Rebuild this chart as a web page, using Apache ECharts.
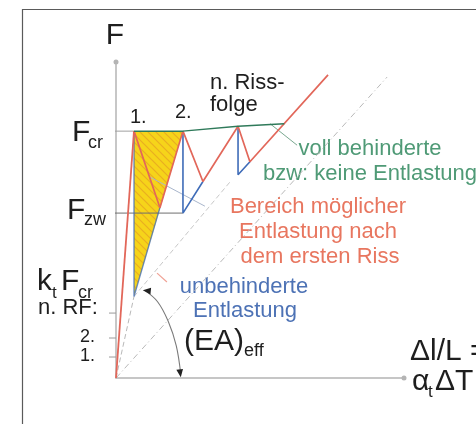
<!DOCTYPE html>
<html><head><meta charset="utf-8">
<script src="https://cdn.jsdelivr.net/npm/echarts@6/dist/echarts.min.js"></script>
<style>html,body{margin:0;padding:0;background:#fff}#chart{width:476px;height:424px}</style>
</head><body><div id="chart"></div>
<script>
// Kraft-Dehnungs-Verlauf eines Zugglieds unter Zwang mit fortschreitender Rissbildung.
// x: bezogene Dehnung (Rissdehnung = 1), y: Kraft bezogen auf F_cr.
const uncrackedBranch   = [[0, 0], [1, 1]];
const restrainedPath    = [[1, 1], [3.72, 1], [6.78, 1.02], [9.35, 1.03]];
const partialReliefPath = [[1, 1], [2.44, 0.69], [3.72, 1], [4.83, 0.796], [6.78, 1.02], [7.44, 0.876], [11.78, 1.228]];
const freeRelief1       = [[1, 1], [1, 0.33], [2.44, 0.69]];
const freeRelief2       = [[3.72, 1], [3.72, 0.668], [4.83, 0.796]];
const freeRelief3       = [[6.78, 1.02], [6.78, 0.823], [7.44, 0.876]];
const firstCrackArea    = [[1, 1], [3.72, 1], [1, 0.33]];
const secantFinal       = [[0, 0], [15.06, 1.219]];
const secantFirst       = [[0, 0], [1, 0.33]];
const secantLater       = [[1, 0.33], [6.4, 0.80]];
const eaArc             = [[1.6, 0.355], [2.3, 0.31], [2.9, 0.23], [3.35, 0.13], [3.6, 0.015]];
const leaderGreen       = [[8.56, 1.03], [10.06, 0.943]];
const leaderArea        = [[1.89, 0.814], [4.94, 0.696]];
const leaderRed         = [[2.28, 0.425], [2.83, 0.389]];
const F_CR = 1.0;
const F_ZW = 0.668;
const rfLevels = [0.085, 0.162, 0.263];
const rfLabels = ['1.', '2.', 'n. RF:'];

const FONT = '"Liberation Sans", Arial, sans-serif';
const RED = '#e2675a', BLUE = '#3f6cb8', GREEN = '#2f7a5a', GRAY = '#b9b9b9';

function hatchTile() {
  const c = document.createElement('canvas');
  c.width = c.height = 8;
  const g = c.getContext('2d');
  g.fillStyle = '#f6d41a'; g.fillRect(0, 0, 8, 8);
  g.strokeStyle = '#e9ae22'; g.lineWidth = 1.2;
  g.beginPath();
  g.moveTo(0, 0); g.lineTo(8, 8);
  g.moveTo(-2, 6); g.lineTo(2, 10);
  g.moveTo(6, -2); g.lineTo(10, 2);
  g.stroke();
  return c;
}
const hatch = hatchTile();

function path(data, color, width, extra) {
  return Object.assign({
    type: 'line', data, showSymbol: false, symbol: 'none', clip: false, silent: true,
    lineStyle: { color, width }, z: 3
  }, extra || {});
}

const chart = echarts.init(document.getElementById('chart'), null, { renderer: 'canvas' });

const texts = [];
function t(text, x, y, size, color, align) {
  texts.push({ type: 'text', x, y, silent: true, style: {
    text, font: size + 'px ' + FONT, fill: color, align: align || 'left', verticalAlign: 'middle' } });
}
const K = '#1e1e1e';
t('F', 115, 36, 30, K, 'center');
t('F', 72, 133, 30, K); t('cr', 88, 143, 18, K);
t('F', 67, 211, 30, K); t('zw', 84, 220, 18, K);
t('k', 37, 282, 30, K); t('t', 52, 293, 17, K); t('F', 61, 282, 30, K); t('cr', 78, 293, 18, K);
t('1.', 130, 117, 20, K); t('2.', 175, 112, 20, K);
t('n. Riss-', 210, 83, 22, K); t('folge', 210, 105, 22, K);
t('voll behinderte', 370, 149, 22, '#4f9a76', 'center');
t('bzw: keine Entlastung', 370, 174, 22, '#4f9a76', 'center');
t('Bereich möglicher', 318, 207, 22, '#e8765f', 'center');
t('Entlastung nach', 318, 232, 22, '#e8765f', 'center');
t('dem ersten Riss', 320, 257, 22, '#e8765f', 'center');
t('unbehinderte', 244, 287, 22, '#4d72b5', 'center');
t('Entlastung', 245, 311, 22, '#4d72b5', 'center');
t('(EA)', 184, 342, 30, K); t('eff', 244, 351, 18, K);
t('\u0394l/L =', 410, 352, 30, K);
t('\u03b1', 412, 382, 30, K); t('t', 428, 392, 17, K); t('\u0394T', 435, 382, 30, K);

chart.setOption({
  animation: false,
  backgroundColor: '#ffffff',
  grid: { left: 116, top: 62, width: 288, height: 316 },
  xAxis: {
    type: 'value', min: 0, max: 16,
    axisLine: { show: true, onZero: false, lineStyle: { color: '#b4b4b4', width: 1.5 }, symbol: ['none', 'circle'], symbolSize: [5, 5] },
    axisTick: { show: false }, axisLabel: { show: false }, splitLine: { show: false }
  },
  yAxis: {
    type: 'value', min: 0, max: 1.28,
    axisLine: { show: true, onZero: false, lineStyle: { color: '#b4b4b4', width: 1.5 }, symbol: ['none', 'circle'], symbolSize: [5, 5] },
    axisTick: { show: false }, axisLabel: { show: false }, splitLine: { show: false }
  },
  graphic: [
    { type: 'rect', silent: true, shape: { x: 22.5, y: 9.5, width: 600, height: 600 }, style: { fill: 'none', stroke: '#5a5a5a', lineWidth: 1.2 } },
    ...texts
  ],
  series: [
    // schraffierter Bereich zwischen erstem und zweitem Riss
    { type: 'custom', silent: true, clip: false, z: 1, data: [[0, 0]],
      renderItem: (p, api) => ({
        type: 'group', children: [
          { type: 'polygon', shape: { points: firstCrackArea.map(d => api.coord(d)) },
            style: { fill: { image: hatch, repeat: 'repeat' }, stroke: 'none' } }
        ]
      }) },
    // Hilfslinien (Sekantensteifigkeiten)
    path(secantFinal, GRAY, 1, { lineStyle: { color: GRAY, width: 1, type: [6, 3, 1, 3] }, z: 2 }),
    path(secantFirst, GRAY, 1, { lineStyle: { color: GRAY, width: 1, type: [5, 3] }, z: 2 }),
    path(secantLater, GRAY, 1, { lineStyle: { color: '#c8c8c8', width: 1, type: [5, 3] }, z: 2 }),
    // Niveaus F_cr und F_zw
    path([[-0.4, F_CR], [1, F_CR]], '#a0a0a0', 1, { z: 2 }),
    path([[-0.6, F_ZW], [3.72, F_ZW]], '#6e6e6e', 1, { z: 2 }),
    // Markierungen n. RF, 2., 1.
    { type: 'custom', silent: true, clip: false, z: 2, data: rfLevels.map(v => [0, v]),
      renderItem: (p, api) => {
        const c = api.coord([0, api.value(1)]);
        return { type: 'line', shape: { x1: c[0] - 7, y1: c[1], x2: c[0], y2: c[1] }, style: { stroke: '#9a9a9a', lineWidth: 1 } };
      } },
    { type: 'custom', silent: true, clip: false, z: 5, data: rfLevels.map((v, i) => [0, v, i]),
      renderItem: (p, api) => {
        const c = api.coord([0, api.value(1)]);
        const i = api.value(2);
        const big = rfLabels[i].length > 2;
        return { type: 'text', x: big ? c[0] - 78 : c[0] - 21, y: c[1] - (big ? 5 : 1),
          style: { text: rfLabels[i], font: (big ? 22 : 18) + 'px ' + FONT, fill: K, align: big ? 'left' : 'right', verticalAlign: 'middle' } };
      } },
    // Hinweislinien
    path(leaderArea, '#a9b6cc', 1, { z: 2 }),
    path(leaderRed, '#f0a295', 1.2, { z: 2 }),
    path(leaderGreen, '#7aa890', 1, { z: 2 }),
    // unbehinderte Entlastung
    path(freeRelief1, BLUE, 1.4, { lineStyle: { color: BLUE, width: 1.4, opacity: 0.75 }, z: 3 }),
    path(freeRelief2, BLUE, 1.6),
    path(freeRelief3, BLUE, 1.6),
    // Bereich möglicher Entlastung
    path(uncrackedBranch, RED, 1.8, { z: 4 }),
    path(partialReliefPath, RED, 1.7, { z: 4 }),
    // voll behinderte Verformung
    path(restrainedPath, GREEN, 1.5, { z: 4 }),
    // Winkel (EA)_eff
    { type: 'custom', silent: true, clip: false, z: 5, data: [[0, 0]],
      renderItem: (p, api) => {
        const pts = eaArc.map(d => api.coord(d));
        const head = (tip, from, size) => {
          const dx = tip[0] - from[0], dy = tip[1] - from[1];
          const L = Math.hypot(dx, dy), ux = dx / L, uy = dy / L;
          const bx = tip[0] - ux * size, by = tip[1] - uy * size, w = size * 0.42;
          return { type: 'polygon', shape: { points: [tip, [bx - uy * w, by + ux * w], [bx + uy * w, by - ux * w]] }, style: { fill: '#222' } };
        };
        const n = pts.length;
        return { type: 'group', children: [
          { type: 'polyline', shape: { points: pts, smooth: 0.35 }, style: { stroke: '#7a7a7a', lineWidth: 1.1, fill: null } },
          head([pts[0][0] - 2, pts[0][1]], [pts[0][0] + 8, pts[0][1] + 1], 8),
          head([pts[n - 1][0], pts[n - 1][1] + 3], pts[n - 2], 8)
        ] };
      } }
  ]
});
</script></body></html>
